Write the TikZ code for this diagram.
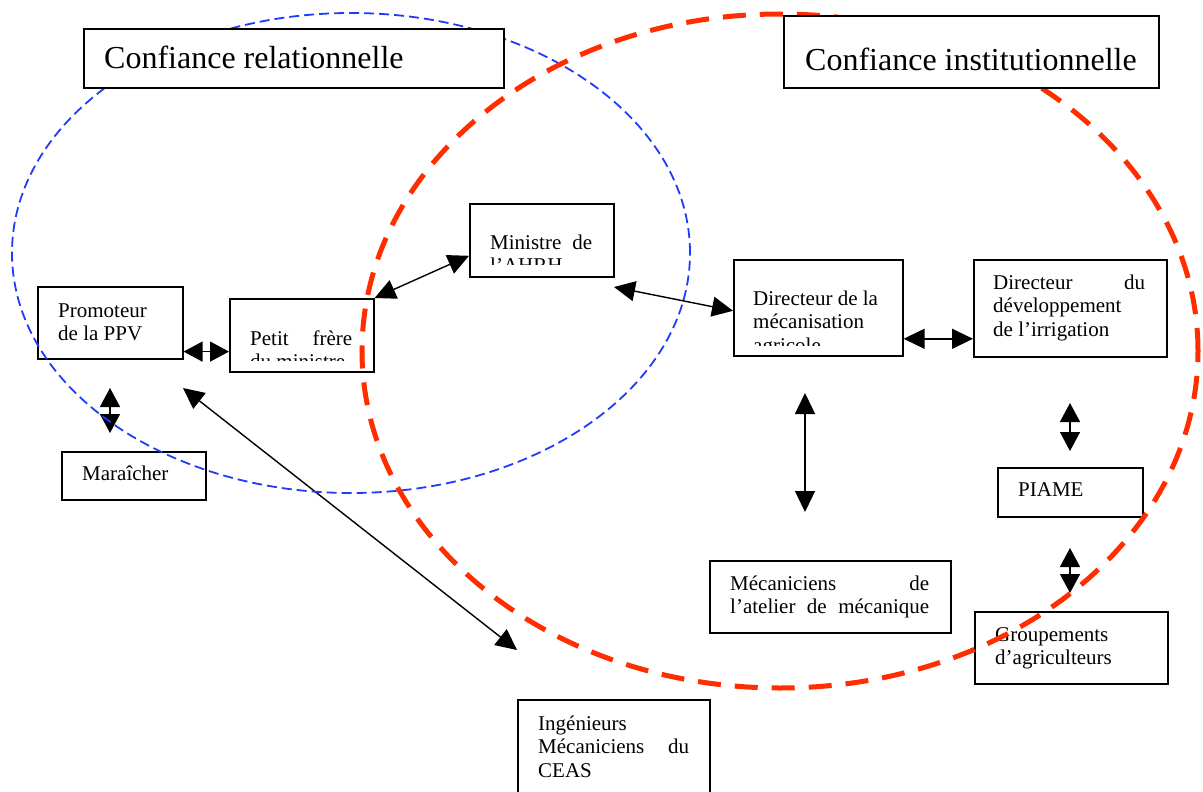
\documentclass[tikz,border=0pt]{standalone}
\usepackage{fontspec}
\setmainfont{Liberation Serif}
\usetikzlibrary{arrows.meta}
\definecolor{bluedash}{RGB}{30,60,250}
\definecolor{reddash}{RGB}{255,45,0}
\newcommand{\jl}[2]{\leavevmode\hbox to #1{#2}}
\tikzset{
  box/.style={draw, line width=1.6pt, inner sep=0pt, anchor=north west},
  txt/.style={inner sep=0pt, anchor=base west, font=\fontsize{21}{23.5}\selectfont},
  ttl/.style={inner sep=0pt, anchor=base west, font=\fontsize{32}{36}\selectfont},
  dbl/.style={line width=1.4pt, {Triangle[length=21pt,width=20pt]}-{Triangle[length=21pt,width=20pt]}},
  sdbl/.style={line width=1.4pt, {Triangle[length=19pt,width=20pt]}-{Triangle[length=19pt,width=20pt]}},
  relell/.style={draw=bluedash, line width=1.8pt, dash pattern=on 10pt off 5pt},
  insell/.style={draw=reddash, line width=5pt, dash pattern=on 23pt off 14pt}
}
\begin{document}
\begin{tikzpicture}[x=1pt,y=-1pt]
\clip (0,0) rectangle (1203,792);
\fill[white] (0,0) rectangle (1203,792);

% boxes
\node[box, minimum width=145pt, minimum height=72pt] (prom) at (37,286) {};
\node[txt] (promt) at (58,317) {\parbox[t]{110pt}{Promoteur\\de la PPV}};

\node[box, minimum width=144pt, minimum height=73pt] (petit) at (229,298) {};
\begin{scope}
\clip (229,298) rectangle (373,360);
\node[txt] (petitt) at (250,345) {\parbox[t]{102pt}{\jl{102pt}{Petit\hfill frère}\\du ministre}};
\end{scope}

\node[box, minimum width=144pt, minimum height=73pt] (mini) at (469,203) {};
\begin{scope}
\clip (469,203) rectangle (613,264);
\node[txt] (minit) at (490,249) {\parbox[t]{102pt}{\jl{102pt}{Ministre\hfill de}\\l’AHRH}};
\end{scope}

\node[box, minimum width=169pt, minimum height=96pt] (dirm) at (733,259) {};
\begin{scope}
\clip (733,259) rectangle (902,345.5);
\node[txt] (dirmt) at (753,305) {\parbox[t]{140pt}{Directeur de la\\mécanisation\\agricole}};
\end{scope}

\node[box, minimum width=193pt, minimum height=97pt] (dird) at (973,259) {};
\node[txt] (dirdt) at (993,289) {\parbox[t]{152pt}{\jl{152pt}{Directeur\hfill du}\\développement\\de l’irrigation}};

\node[box, minimum width=145pt, minimum height=49pt] (piame) at (997,467) {};
\node[txt] (piamet) at (1018,496) {PIAME};

\node[box, minimum width=193pt, minimum height=72pt] (grp) at (974,611) {};
\node[txt] (grpt) at (995,641) {\parbox[t]{160pt}{Groupements\\d’agriculteurs}};

\node[box, minimum width=241pt, minimum height=72pt] (meca) at (709,560) {};
\node[txt] (mecat) at (730,590) {\parbox[t]{199pt}{\jl{199pt}{Mécaniciens\hfill de}\\\jl{199pt}{l’atelier\hfill de\hfill mécanique}}};

\node[box, minimum width=192pt, minimum height=120pt] (ing) at (517,699) {};
\node[txt] (ingt) at (538,730) {\parbox[t]{151pt}{Ingénieurs\\\jl{151pt}{Mécaniciens\hfill du}\\CEAS}};

\node[box, minimum width=144pt, minimum height=48pt] (mar) at (61,451) {};
\node[txt] (mart) at (82,480) {Maraîcher};

% free arrow ends
\coordinate (pm1) at (110,388);
\coordinate (pm2) at (110,433);
\coordinate (pi1) at (183,388);
\coordinate (pi2) at (517,650);
\coordinate (mc1) at (805,393);
\coordinate (mc2) at (805,512);
\coordinate (dp1) at (1070,403);
\coordinate (dp2) at (1070,451);
\coordinate (pg1) at (1070,548);
\coordinate (pg2) at (1070,593);
\coordinate (mm1) at (614,287);

% connectors
\draw[sdbl] ([yshift=8pt]prom.south east) -- ([yshift=21pt]petit.south west);
\draw[dbl] (petit.north east) -- ([yshift=-15.5pt]mini.west);
\draw[dbl] (mm1) -- ([yshift=-3pt]dirm.west);
\draw[dbl] ([yshift=-31pt]dirm.east) -- ([yshift=-30.5pt]dird.west);
\draw[sdbl] (pm1) -- (pm2);
\draw[dbl] (pi1) -- (pi2);
\draw[dbl] (mc1) -- (mc2);
\draw[sdbl] (dp1) -- (dp2);
\draw[sdbl] (pg1) -- (pg2);

% trust ellipses
\draw[relell] (351,253) ellipse [x radius=339pt, y radius=240pt];
\draw[insell] (780,351) ellipse [x radius=418pt, y radius=337pt];

% titles
\node[box, fill=white, minimum width=420pt, minimum height=59pt] (t1) at (83,28) {};
\node[ttl] (t1t) at (104,69) {Confiance relationnelle};
\node[box, fill=white, minimum width=375pt, minimum height=72pt] (t2) at (783,15) {};
\node[ttl] (t2t) at (805,71) {Confiance institutionnelle};
\end{tikzpicture}
\end{document}
